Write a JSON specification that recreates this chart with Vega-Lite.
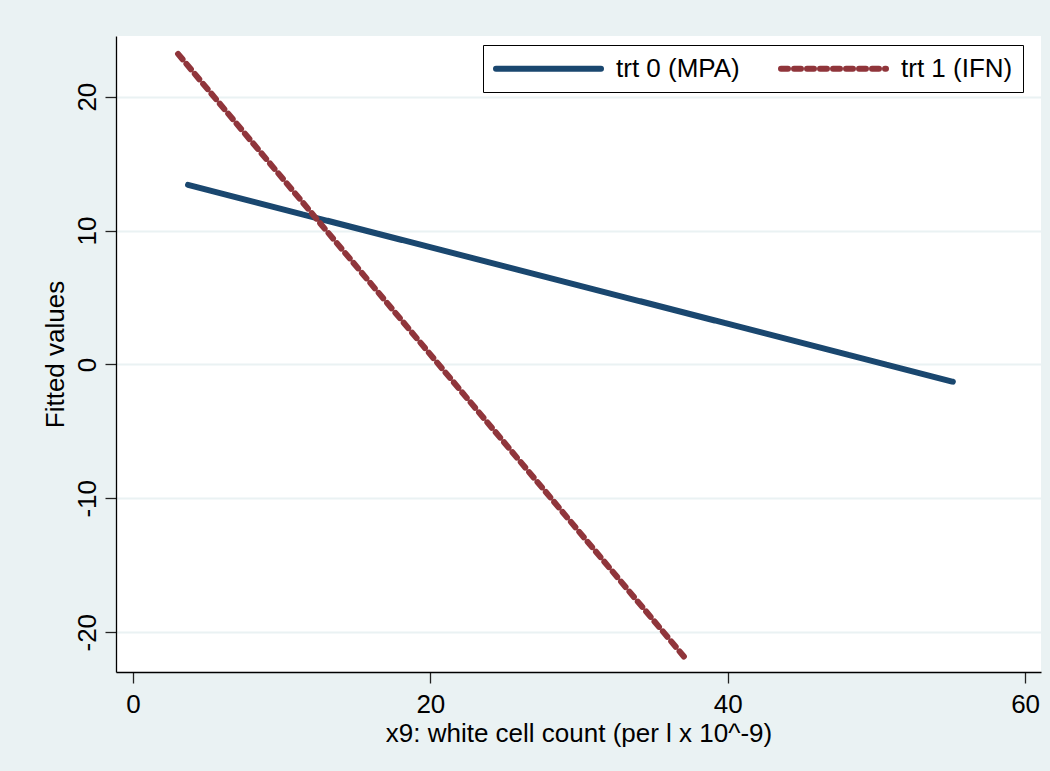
{
  "$schema": "https://vega.github.io/schema/vega-lite/v6.json",
  "autosize": {"type": "none"},
  "padding": {"left": 116, "top": 36, "right": 9, "bottom": 99},
  "width": 925,
  "height": 636,
  "background": "#EAF2F3",
  "config": {
    "font": "Liberation Sans",
    "view": {"fill": "white", "stroke": null},
    "axis": {
      "labelFont": "Liberation Sans",
      "titleFont": "Liberation Sans",
      "labelFontSize": 26,
      "titleFontSize": 26,
      "labelColor": "black",
      "titleColor": "black",
      "titleFontWeight": "normal",
      "domainColor": "black",
      "domainWidth": 1.3,
      "tickColor": "#222222",
      "tickWidth": 1.3,
      "tickSize": 11
    }
  },
  "data": {
    "values": [
      {"x9": 3.70, "fit": 13.41, "trt": "trt 0 (MPA)"},
      {"x9": 55.14, "fit": -1.29, "trt": "trt 0 (MPA)"},
      {"x9": 3.03, "fit": 23.19, "trt": "trt 1 (IFN)"},
      {"x9": 37.05, "fit": -21.81, "trt": "trt 1 (IFN)"}
    ]
  },
  "mark": {"type": "line", "strokeWidth": 6, "strokeCap": "round"},
  "encoding": {
    "x": {
      "field": "x9",
      "type": "quantitative",
      "title": "x9: white cell count (per l x 10^-9)",
      "scale": {"domain": [-1.143, 61.07], "nice": false, "zero": false},
      "axis": {
        "values": [0, 20, 40, 60],
        "grid": false,
        "labelPadding": 8,
        "titlePadding": 3,
        "labelExpr": "'' + datum.value"
      }
    },
    "y": {
      "field": "fit",
      "type": "quantitative",
      "title": "Fitted values",
      "scale": {"domain": [-22.97, 24.53], "nice": false, "zero": false},
      "axis": {
        "values": [-20, -10, 0, 10, 20],
        "grid": true,
        "gridColor": "#EAF2F3",
        "gridWidth": 2,
        "labelAngle": 270,
        "labelAlign": "center",
        "labelBaseline": "alphabetic",
        "labelPadding": 10,
        "titlePadding": 6,
        "labelExpr": "'' + datum.value"
      }
    },
    "color": {
      "field": "trt",
      "type": "nominal",
      "scale": {"domain": ["trt 0 (MPA)", "trt 1 (IFN)"], "range": ["#1A476F", "#90353B"]},
      "legend": {
        "title": null,
        "orient": "none",
        "legendX": 367,
        "legendY": 9,
        "direction": "horizontal",
        "strokeColor": "black",
        "fillColor": "white",
        "padding": 10,
        "symbolType": "M-1,0H9",
        "symbolSize": 441,
        "symbolStrokeWidth": 6,
        "labelFontSize": 26,
        "labelFont": "Liberation Sans",
        "labelColor": "black",
        "labelOffset": 96,
        "columnPadding": 29,
        "labelLimit": 400,
        "encode": {"symbols": {"update": {"strokeCap": {"value": "round"}, "fillOpacity": {"value": 0}}}}
      }
    },
    "strokeDash": {
      "field": "trt",
      "type": "nominal",
      "scale": {"domain": ["trt 0 (MPA)", "trt 1 (IFN)"], "range": [[1, 0], [7, 6]]}
    }
  }
}
